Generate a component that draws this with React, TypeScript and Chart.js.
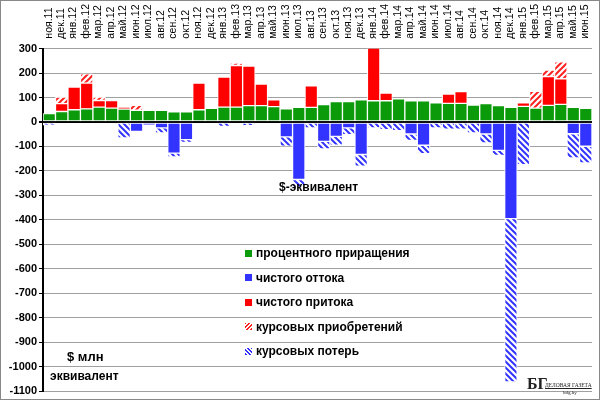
import React, { useEffect, useRef } from "react";
import { Chart, registerables } from "chart.js";
Chart.register(...registerables);

const months = ["ноя.11","дек.11","янв.12","фев.12","мар.12","апр.12","май.12","июн.12","июл.12","авг.12","сен.12","окт.12","ноя.12","дек.12","янв.13","фев.13","мар.13","апр.13","май.13","июн.13","июл.13","авг.13","сен.13","окт.13","ноя.13","дек.13","янв.14","фев.14","мар.14","апр.14","май.14","июн.14","июл.14","авг.14","сен.14","окт.14","ноя.14","дек.14","янв.15","фев.15","мар.15","апр.15","май.15","июн.15"];
const interestGain = [34,43,50,54,61,57,53,48,48,48,42,42,50,56,61,61,67,67,63,54,60,60,71,84,84,91,87,87,95,87,87,78,76,76,69,75,67,60,64,57,68,72,60,56];
const netOutflow = [0,0,0,0,0,0,0,-38,-13,-24,-127,-72,0,0,0,0,0,0,0,-61,-235,0,-79,-59,-24,-133,0,0,0,-49,-95,0,0,0,0,-49,-116,-395,0,0,0,0,-48,-99];
const netInflow = [0,32,93,105,27,31,7,0,0,0,0,0,109,0,123,170,162,88,28,0,0,88,0,0,0,0,218,31,0,0,0,0,38,48,0,0,0,0,14,0,118,105,0,0];
const fxGains = [0,27,0,38,14,0,0,20,0,0,0,0,0,0,0,10,0,0,0,0,0,0,0,0,0,0,0,0,0,0,0,0,0,0,0,0,0,0,0,68,26,69,0,0];
const fxLosses = [-13,0,0,0,0,0,-65,0,0,-21,-16,-11,0,0,-18,0,-15,0,0,-38,-30,-24,-31,-36,-28,-48,-24,-31,-35,-26,-34,-24,-29,-29,-45,-37,-21,-668,-174,0,0,0,-99,-68];
const yTicks = [300,200,100,0,-100,-200,-300,-400,-500,-600,-700,-800,-900,-1000,-1100];

function hatch(color: string, flip: boolean) {
  const c = document.createElement("canvas");
  c.width = 6; c.height = 6;
  const g = c.getContext("2d")!;
  g.fillStyle = "#fff"; g.fillRect(0, 0, 6, 6);
  g.strokeStyle = color; g.lineWidth = 2;
  g.beginPath();
  if (!flip) {
    g.moveTo(0, 0); g.lineTo(6, 6);
    g.moveTo(-3, 3); g.lineTo(3, 9);
    g.moveTo(3, -3); g.lineTo(9, 3);
  } else {
    g.moveTo(6, 0); g.lineTo(0, 6);
    g.moveTo(9, 3); g.lineTo(3, 9);
    g.moveTo(3, -3); g.lineTo(-3, 3);
  }
  g.stroke();
  return g.createPattern(c, "repeat")!;
}

export default function App() {
  const ref = useRef<HTMLCanvasElement>(null);
  useEffect(() => {
    document.body.style.margin = "0";
    const common = { borderColor: "#fff", borderWidth: 1, borderSkipped: false, barPercentage: 1, categoryPercentage: 1 };
    const chart = new Chart(ref.current!, {
      type: "bar",
      data: {
        labels: months,
        datasets: [
          { label: "процентного приращения", data: interestGain, backgroundColor: "#0a9a0a", ...common },
          { label: "чистого притока", data: netInflow, backgroundColor: "#ff0000", ...common },
          { label: "курсовых приобретений", data: fxGains, backgroundColor: hatch("#ff2020", true), ...common },
          { label: "чистого оттока", data: netOutflow, backgroundColor: "#3333ff", ...common },
          { label: "курсовых потерь", data: fxLosses, backgroundColor: hatch("#3333ff", false), ...common },
        ] as any,
      },
      options: {
        animation: false,
        responsive: false,
        layout: { padding: { top: 2, right: 8, bottom: 9, left: 0 } },
        plugins: { legend: { display: false }, tooltip: { enabled: false } },
        scales: {
          x: {
            stacked: true, position: "top", offset: true,
            grid: { display: false },
            border: { display: false },
            ticks: { minRotation: 90, maxRotation: 90, autoSkip: false, labelOffset: 12, color: "#000", padding: 2, font: { family: "Liberation Sans", size: 10.5 } },
          },
          y: {
            stacked: true, min: -1100, max: 300,
            afterBuildTicks: (a: any) => { a.ticks = yTicks.map((v) => ({ value: v })); },
            afterFit: (a: any) => { a.width = 43; },
            grid: {
              color: (c: any) => (c.tick && c.tick.value === 0 ? "#000" : "#a0a0a0"),
              lineWidth: (c: any) => (c.tick && c.tick.value === 0 ? 2 : 1),
              tickLength: 4, tickColor: "#000",
            },
            border: { color: "#000", width: 2 },
            ticks: { color: "#000", padding: 2, callback: (v: any) => String(v), font: { family: "Liberation Sans", size: 11, weight: "bold" } },
          },
        },
      } as any,
    });
    return () => chart.destroy();
  }, []);
  const legend = [
    ["#0a9a0a", "процентного приращения", false],
    ["#3333ff", "чистого оттока", false],
    ["#ff0000", "чистого притока", false],
    ["#ff2020", "курсовых приобретений", true],
    ["#3333ff", "курсовых потерь", true],
  ] as const;
  const txt: React.CSSProperties = { position: "absolute", fontFamily: "Liberation Sans, Arial", fontWeight: "bold", fontSize: 12, color: "#000", whiteSpace: "nowrap" };
  return (
    <div style={{ position: "relative", width: 600, height: 400 }}>
      <canvas ref={ref} width={600} height={400} style={{ position: "absolute", left: 0, top: 0 }} />
      <div style={{ position: "absolute", left: 0, top: 0, width: 598, height: 398, border: "1px solid #888" }} />
      <div style={{ ...txt, left: 279, top: 180 }}>$-эквивалент</div>
      {legend.map(([c, t, h], i) => (
        <div key={t} style={{ ...txt, left: 245, top: 246 + i * 24.5, display: "flex", alignItems: "center" }}>
          <span style={{ display: "inline-block", width: 7, height: 7, marginRight: 4, background: h ? `repeating-linear-gradient(${c === "#ff2020" ? "-45deg" : "45deg"}, ${c} 0 1.5px, #fff 1.5px 3px)` : c }} />
          {t}
        </div>
      ))}
      <div style={{ ...txt, left: 67, top: 349, fontSize: 13 }}>$ млн</div>
      <div style={{ ...txt, left: 50, top: 369 }}>эквивалент</div>
      <div style={{ position: "absolute", left: 527, top: 376, fontFamily: "Liberation Serif", fontWeight: "bold", fontSize: 16, color: "#222", whiteSpace: "nowrap", lineHeight: "16px" }}>БГ</div>
      <div style={{ position: "absolute", left: 545, top: 382, fontFamily: "Liberation Serif", fontSize: 5.5, color: "#222", whiteSpace: "nowrap", textDecoration: "underline" }}>ДЕЛОВАЯ ГАЗЕТА</div>
      <div style={{ position: "absolute", left: 563, top: 390, fontFamily: "Liberation Serif", fontSize: 5, color: "#222", whiteSpace: "nowrap" }}>bdg.by</div>
    </div>
  );
}
